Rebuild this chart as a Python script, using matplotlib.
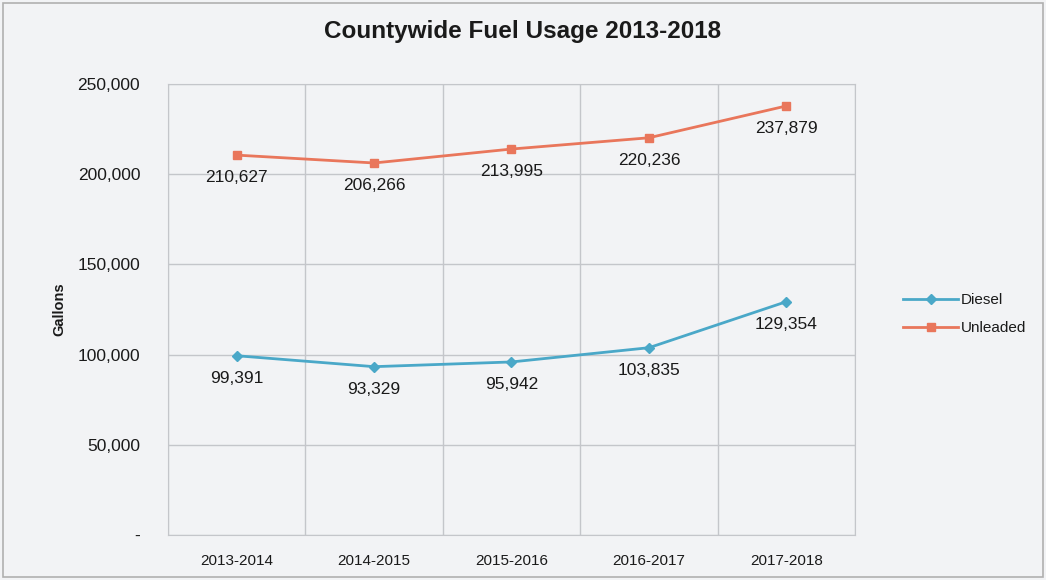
import matplotlib.pyplot as plt
from matplotlib.ticker import FuncFormatter

# === Veriler ===
years = ["2013-2014", "2014-2015", "2015-2016", "2016-2017", "2017-2018"]
diesel = [99391, 93329, 95942, 103835, 129354]
unleaded = [210627, 206266, 213995, 220236, 237879]
y_ticks = [0, 50000, 100000, 150000, 200000, 250000]

plt.rcParams['font.family'] = ['Liberation Sans', 'DejaVu Sans']

bg = "#f2f3f5"
txt = "#1a1a1a"
diesel_color = "#4aa8c8"
unleaded_color = "#e9765b"

fig = plt.figure(figsize=(10.46, 5.8), dpi=100, facecolor=bg)
ax = fig.add_axes([0.1606, 0.0776, 0.6568, 0.7774], facecolor=bg)

x = list(range(len(years)))
ax.plot(x, diesel, color=diesel_color, marker="D", markersize=5, linewidth=2, label="Diesel")
ax.plot(x, unleaded, color=unleaded_color, marker="s", markersize=6, linewidth=2, label="Unleaded")

# veri etiketleri noktaların altında
for xi, v in zip(x, diesel):
    ax.annotate(f"{v:,}", (xi, v), xytext=(0, -11), textcoords="offset points",
                ha="center", va="top", fontsize=12.5, color=txt)
for xi, v in zip(x, unleaded):
    ax.annotate(f"{v:,}", (xi, v), xytext=(0, -11), textcoords="offset points",
                ha="center", va="top", fontsize=12.5, color=txt)

ax.set_xlim(-0.5, len(years) - 0.5)
ax.set_ylim(0, 250000)
ax.set_yticks(y_ticks)
ax.yaxis.set_major_formatter(FuncFormatter(lambda v, p: "-" if v == 0 else f"{int(v):,}"))
ax.set_xticks(x)
ax.set_xticklabels(years)
ax.set_xticks([i - 0.5 for i in range(len(years) + 1)], minor=True)

ax.grid(True, which="major", axis="y", color="#c4c6ca", linewidth=1)
ax.grid(True, which="minor", axis="x", color="#c4c6ca", linewidth=1)
ax.set_axisbelow(True)
for s in ax.spines.values():
    s.set_color("#c4c6ca")
ax.tick_params(which="both", length=0)
ax.tick_params(axis="x", labelsize=11, colors=txt, pad=14)
ax.tick_params(axis="y", labelsize=12.5, colors=txt, pad=20)

ax.set_ylabel("Gallons", fontsize=10.5, fontweight="bold", color=txt, labelpad=8)
fig.suptitle("Countywide Fuel Usage 2013-2018", x=0.5, y=0.965, fontsize=17.5,
             fontweight="bold", color=txt)

ax.legend(loc="center left", bbox_to_anchor=(1.05, 0.49), frameon=False,
          fontsize=11, labelcolor=txt, handlelength=3.6, handletextpad=0.2,
          labelspacing=0.9)

# çerçeve
fig.patches.append(plt.Rectangle((0.003, 0.005), 0.994, 0.99, transform=fig.transFigure,
                                 fill=False, edgecolor="#b0b0b0", linewidth=1.2))

fig.savefig("out.png", dpi=100, facecolor=bg)
